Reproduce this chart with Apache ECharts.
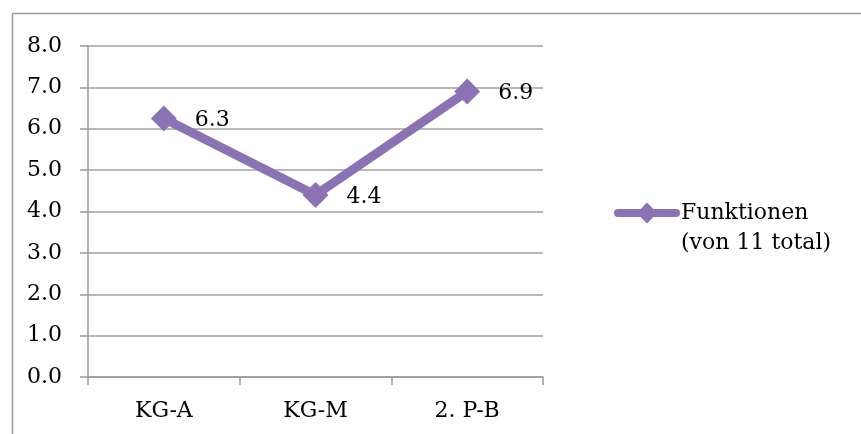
<!DOCTYPE html>
<html><head><meta charset="utf-8">
<script src="https://cdn.jsdelivr.net/npm/echarts@6/dist/echarts.min.js"></script>
<style>html,body{margin:0;padding:0;background:#fff}#c{width:861px;height:434px}</style>
</head><body><div id="c"></div>
<script>
const categories = ['KG-A', 'KG-M', '2. P-B'];
const values = [6.25, 4.4, 6.9];
const seriesName = 'Funktionen\n(von 11 total)';
const yMin = 0, yMax = 8, yInterval = 1;

const FONT = 'DejaVu Serif';
const chart = echarts.init(document.getElementById('c'));
chart.setOption({
  animation: false,
  backgroundColor: '#fff',
  graphic: [{
    type: 'rect', left: 10, top: 11, silent: true,
    shape: { width: 860, height: 440 },
    style: { fill: 'none', stroke: '#9a9a9a', lineWidth: 1.5 }
  }],
  grid: { left: 88, top: 46, width: 455, height: 331, containLabel: false },
  legend: {
    left: 609, top: 163,
    itemWidth: 58, itemHeight: 26,
    itemGap: 0,
    lineStyle: { width: 8, cap: 'round' },
    textStyle: { fontFamily: FONT, fontSize: 22, color: '#000', lineHeight: 30 },
    formatter: name => '\n' + name,
    data: [seriesName]
  },
  xAxis: {
    type: 'category', data: categories, boundaryGap: true,
    axisLine: { lineStyle: { color: '#9a9a9a', width: 1.5 } },
    axisTick: { show: true, length: 8, lineStyle: { color: '#9a9a9a', width: 1.5 } },
    axisLabel: { fontFamily: FONT, fontSize: 22, color: '#000', margin: 23 }
  },
  yAxis: {
    type: 'value', min: yMin, max: yMax, interval: yInterval,
    axisLine: { show: true, lineStyle: { color: '#9a9a9a', width: 1.5 } },
    axisTick: { show: true, length: 8, lineStyle: { color: '#9a9a9a', width: 1.5 } },
    splitLine: { lineStyle: { color: '#a0a0a0', width: 1.5 } },
    axisLabel: { fontFamily: FONT, fontSize: 22, color: '#000', margin: 26, formatter: v => v.toFixed(1) }
  },
  series: [{
    name: seriesName, type: 'line', data: values,
    symbol: 'diamond', symbolSize: 26,
    lineStyle: { color: '#8b73b3', width: 9 },
    itemStyle: { color: '#8b73b3' },
    label: {
      show: true, position: 'right', distance: 18, offset: [0, 2],
      fontFamily: FONT, fontSize: 22, color: '#000',
      formatter: p => p.value.toFixed(1)
    }
  }]
});
</script></body></html>
